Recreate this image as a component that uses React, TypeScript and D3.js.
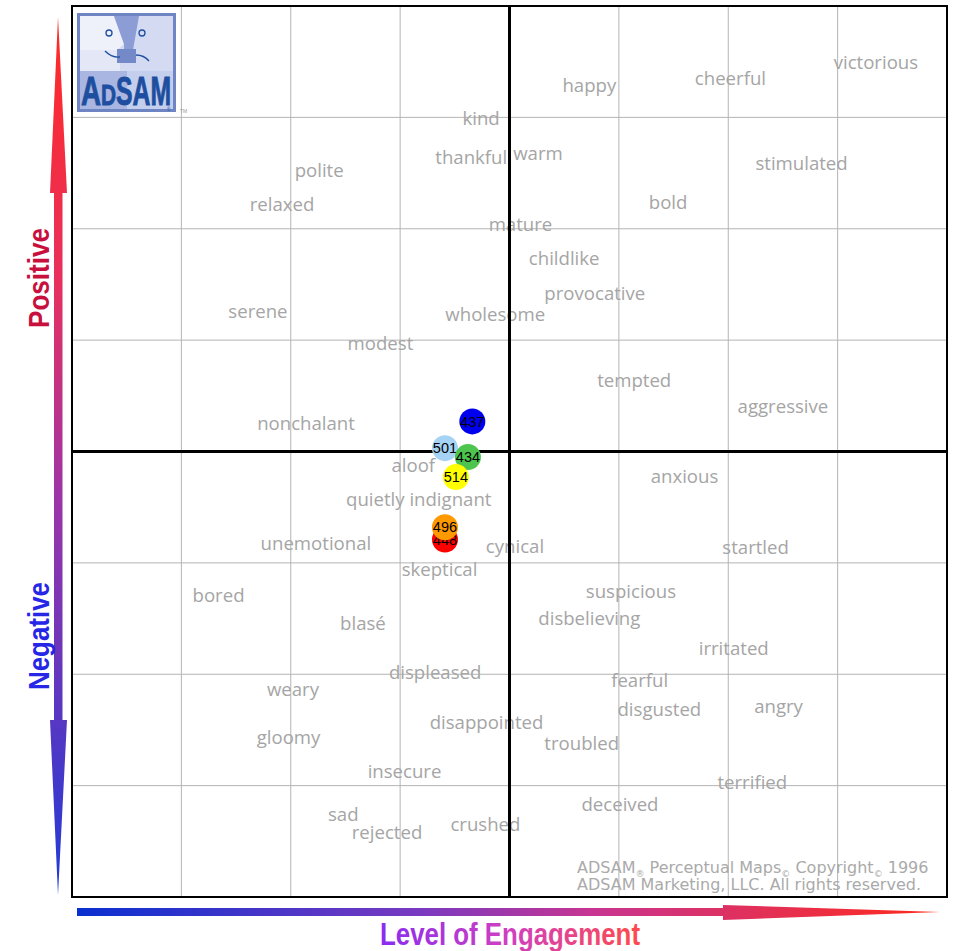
import React from 'react';
import * as d3 from 'd3';

// emotion words on the map (x = engagement, y = positive/negative)
const wordLabels = [
  'happy', 'cheerful', 'victorious', 'kind', 'thankful', 'warm', 'stimulated', 'polite', 'relaxed', 'bold',
  'mature', 'childlike', 'provocative', 'serene', 'wholesome', 'modest', 'tempted', 'aggressive', 'nonchalant',
  'aloof', 'anxious', 'quietly indignant', 'unemotional', 'cynical', 'startled', 'skeptical', 'bored',
  'suspicious', 'blasé', 'disbelieving', 'irritated', 'displeased', 'fearful', 'weary', 'angry', 'disgusted',
  'disappointed', 'gloomy', 'troubled', 'insecure', 'terrified', 'deceived', 'sad', 'rejected', 'crushed',
];
const wordX = [
  0.73, 2.02, 3.35, -0.26, -0.35, 0.26, 2.67, -1.74, -2.08, 1.45,
  0.10, 0.50, 0.78, -2.30, -0.13, -1.18, 1.14, 2.50, -1.86,
  -0.88, 1.60, -0.83, -1.77, 0.05, 2.25, -0.64, -2.66,
  1.11, -1.34, 0.73, 2.05, -0.68, 1.19, -1.98, 2.46, 1.37,
  -0.21, -2.02, 0.66, -0.96, 2.22, 1.01, -1.52, -1.12, -0.22,
];
const wordY = [
  3.29, 3.35, 3.49, 2.99, 2.64, 2.68, 2.59, 2.52, 2.22, 2.24,
  2.04, 1.73, 1.42, 1.26, 1.23, 0.97, 0.64, 0.40, 0.25,
  -0.13, -0.22, -0.43, -0.83, -0.85, -0.86, -1.06, -1.29,
  -1.26, -1.54, -1.50, -1.77, -1.98, -2.06, -2.14, -2.29, -2.32,
  -2.43, -2.57, -2.62, -2.87, -2.97, -3.17, -3.26, -3.42, -3.35,
];

// ad scores (drawn in this order)
const pointLabels = ['437', '501', '434', '514', '448', '496'];
const pointX = [-0.34, -0.59, -0.38, -0.49, -0.59, -0.59];
const pointY = [0.27, 0.03, -0.05, -0.23, -0.79, -0.68];
const pointColors = ['#0000ee', '#a6d2f4', '#4dc44d', '#ffff00', '#ff0000', '#ff9900'];

const gridTicks = [-4, -3, -2, -1, 0, 1, 2, 3, 4];

const W = 954;
const H = 951;
const plot = { left: 72, right: 947, top: 6, bottom: 897 };

const narrow = "'Liberation Sans Narrow', 'Liberation Sans', Arial, sans-serif";

export default function App() {
  const x = d3.scaleLinear().domain([-4, 4]).range([plot.left, plot.right]);
  const y = d3.scaleLinear().domain([-4, 4]).range([plot.bottom, plot.top]);

  const wordFont = '"Open Sans", "Noto Sans", sans-serif';

  return (
    <div style={{ position: 'absolute', left: 0, top: 0 }}>
      <svg width={W} height={H} style={{ display: 'block', background: '#fff' }}>
        <defs>
          <linearGradient id="vGrad" x1="0" y1="0" x2="0" y2="1">
            <stop offset="0" stopColor="#ff2a22" />
            <stop offset="0.3" stopColor="#e8305e" />
            <stop offset="0.55" stopColor="#9c34a8" />
            <stop offset="1" stopColor="#1f3ad8" />
          </linearGradient>
          <linearGradient id="hGrad" x1="0" y1="0" x2="1" y2="0">
            <stop offset="0" stopColor="#0a30d0" />
            <stop offset="0.4" stopColor="#7a3ac0" />
            <stop offset="0.6" stopColor="#c83590" />
            <stop offset="1" stopColor="#ff2a1a" />
          </linearGradient>
          <linearGradient id="tGrad" x1="0" y1="0" x2="1" y2="0">
            <stop offset="0" stopColor="#8a2cf0" />
            <stop offset="0.5" stopColor="#d040c0" />
            <stop offset="1" stopColor="#ff4a4a" />
          </linearGradient>
        </defs>

        {/* grid */}
        <g stroke="#b4b4b4" strokeWidth={1}>
          {gridTicks.map((t) => (
            <line key={'gx' + t} x1={x(t)} x2={x(t)} y1={plot.top} y2={plot.bottom} />
          ))}
          {gridTicks.map((t) => (
            <line key={'gy' + t} x1={plot.left} x2={plot.right} y1={y(t)} y2={y(t)} />
          ))}
        </g>

        {/* words */}
        <g fill="#a5a5a5" fontFamily={wordFont} fontSize={18.6} textAnchor="middle">
          {wordLabels.map((w, i) => (
            <text key={w} x={x(wordX[i])} y={y(wordY[i])} dy="0.35em">{w}</text>
          ))}
        </g>

        {/* center axes */}
        <line x1={x(0)} x2={x(0)} y1={plot.top} y2={plot.bottom} stroke="#000" strokeWidth={3} />
        <line x1={plot.left} x2={plot.right} y1={y(0)} y2={y(0)} stroke="#000" strokeWidth={3} />

        {/* border */}
        <rect x={plot.left} y={plot.top} width={plot.right - plot.left} height={plot.bottom - plot.top}
          fill="none" stroke="#000" strokeWidth={2} />

        {/* points */}
        <g fontFamily="Arial, 'Liberation Sans', sans-serif" fontSize={14.5} textAnchor="middle">
          {pointLabels.map((p, i) => (
            <g key={p}>
              <circle cx={x(pointX[i])} cy={y(pointY[i])} r={13} fill={pointColors[i]} />
              <text x={x(pointX[i])} y={y(pointY[i])} dy="0.36em" fill="#000">{p}</text>
            </g>
          ))}
        </g>

        {/* logo */}
        <g>
          <rect x={77} y={13} width={99} height={99} fill="#6f85c3" />
          <rect x={80} y={16} width={93} height={55} fill="#d3daf1" />
          <polygon points="80,16 114,16 124,44 117,50 80,50" fill="#eef0fa" />
          <polygon points="114,16 139,16 133,50 124,50 124,44" fill="#8c9dd5" />
          <rect x={80} y={50} width={40} height={21} fill="#e4e8f6" />
          <rect x={117} y={49} width={19} height={14} fill="#7489c8" />
          <rect x={80} y={71} width={47} height={38} fill="#a9b6e1" />
          <rect x={127} y={71} width={46} height={38} fill="#c4ceed" />
          <circle cx={109} cy={33} r={3} fill="none" stroke="#1f4fa0" strokeWidth={1.3} />
          <circle cx={142} cy={33} r={3} fill="none" stroke="#1f4fa0" strokeWidth={1.3} />
          <path d="M105,51 Q112,58 120,57" fill="none" stroke="#1f4fa0" strokeWidth={1.4} />
          <path d="M136,55 Q144,55 149,61" fill="none" stroke="#1f4fa0" strokeWidth={1.4} />
          <g fontFamily={narrow} fontWeight="bold" fill="#1d4e9f" stroke="#1d4e9f" strokeWidth={0.9}>
            <text x={81} y={105} fontSize={40} textLength={20} lengthAdjust="spacingAndGlyphs">A</text>
            <text x={101} y={105} fontSize={30} textLength={15} lengthAdjust="spacingAndGlyphs">D</text>
            <text x={116} y={105} fontSize={40} textLength={55} lengthAdjust="spacingAndGlyphs">SAM</text>
          </g>
          <text x={180} y={113} fontSize={5} fill="#999" fontFamily="Arial, sans-serif">TM</text>
          <text x={167} y={111} fontSize={4.5} fill="#1d4e9f" fontFamily="Arial, sans-serif">®</text>
        </g>

        {/* copyright */}
        <g fill="#aaaaaa" fontFamily="'DejaVu Sans', Verdana, sans-serif" fontSize={16}>
          <text x={577} y={873}>
            ADSAM<tspan fontSize={9} dy={4}>®</tspan><tspan dy={-4}> Perceptual Maps</tspan><tspan fontSize={9} dy={4}>©</tspan><tspan dy={-4}> Copyright</tspan><tspan fontSize={9} dy={4}>©</tspan><tspan dy={-4}> 1996</tspan>
          </text>
          <text x={577} y={890}>ADSAM Marketing, LLC. All rights reserved.</text>
        </g>

        {/* vertical arrow */}
        <polygon
          points="58,17 67,193 62.5,193 62.5,720 67,720 58,895 50,720 54,720 54,193 50,193"
          fill="url(#vGrad)" />
        <text transform="translate(49,278) rotate(-90)" textAnchor="middle"
          fontFamily={narrow} fontWeight="bold" fontSize={30}
          fill="#c8103e" textLength={100} lengthAdjust="spacingAndGlyphs">Positive</text>
        <text transform="translate(49,636) rotate(-90)" textAnchor="middle"
          fontFamily={narrow} fontWeight="bold" fontSize={30}
          fill="#2626e6" textLength={108} lengthAdjust="spacingAndGlyphs">Negative</text>

        {/* horizontal arrow */}
        <polygon points="77,908 723,908 723,905 940,912 723,920 723,916 77,916" fill="url(#hGrad)" />
        <text x={510} y={945} textAnchor="middle"
          fontFamily={narrow} fontWeight="bold" fontSize={32}
          fill="url(#tGrad)" textLength={260} lengthAdjust="spacingAndGlyphs">Level of Engagement</text>
      </svg>
    </div>
  );
}
